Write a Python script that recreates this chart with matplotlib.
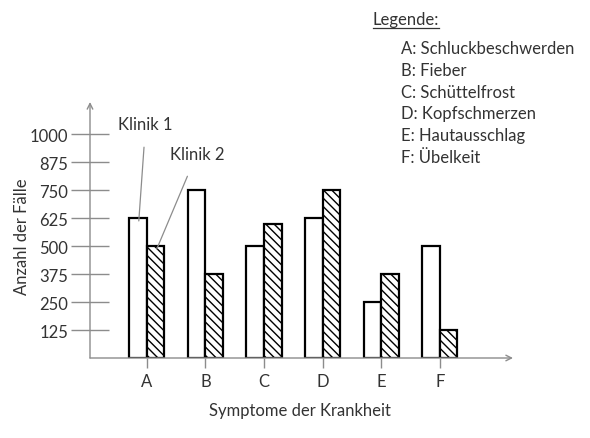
import matplotlib
matplotlib.use("Agg")
import matplotlib.pyplot as plt
import numpy as np

plt.rcParams["font.family"] = ["Lato", "DejaVu Sans"]
plt.rcParams["hatch.linewidth"] = 1.0

categories = ["A", "B", "C", "D", "E", "F"]
klinik1 = [625, 750, 500, 625, 250, 500]
klinik2 = [500, 375, 600, 750, 375, 125]
yticks = [125, 250, 375, 500, 625, 750, 875, 1000]
legend_items = ["A: Schluckbeschwerden", "B: Fieber", "C: Schüttelfrost",
                "D: Kopfschmerzen", "E: Hautausschlag", "F: Übelkeit"]

W, H = 590, 439
TXT = "#333333"
GREY = "#8c8c8c"

fig = plt.figure(figsize=(W / 100, H / 100), dpi=100)
ax = fig.add_axes([90 / W, (H - 359) / H, 423 / W, 256 / H])

x = np.arange(len(categories))
bw = 0.3
ax.bar(x, klinik1, width=-bw, align="edge", color="white", edgecolor="black", linewidth=1.6)
ax.bar(x, klinik2, width=bw, align="edge", color="white", edgecolor="black", linewidth=1.6,
       hatch="\\\\\\\\")

ax.set_xlim(-0.97, 6.25)
ax.set_ylim(0, 1143)
for s in ax.spines.values():
    s.set_visible(False)

# axes as arrows
ax.annotate("", xy=(0, 1), xytext=(0, 0), xycoords="axes fraction",
            arrowprops=dict(arrowstyle="->", color=GREY, lw=1, shrinkA=0, shrinkB=0))
ax.annotate("", xy=(1, 0), xytext=(0, 0), xycoords="axes fraction",
            arrowprops=dict(arrowstyle="->", color=GREY, lw=1, shrinkA=0, shrinkB=0))

ax.set_yticks(yticks)
ax.set_yticklabels([str(v) for v in yticks])
ax.tick_params(axis="y", direction="inout", length=27, width=1, color=GREY,
               labelsize=12, labelcolor=TXT, pad=2)
ax.set_xticks(x)
ax.set_xticklabels(categories)
ax.tick_params(axis="x", direction="out", length=7, width=1, color=GREY,
               labelsize=12, labelcolor=TXT, pad=4)

# series labels with leader lines
ax.annotate("Klinik 1", xy=(-0.137, 612), xytext=(-0.02, 1045), textcoords="data",
            ha="center", va="center", fontsize=12, color=TXT,
            arrowprops=dict(arrowstyle="-", color=GREY, lw=0.9, shrinkA=9, shrinkB=0))
ax.annotate("Klinik 2", xy=(0.17, 487), xytext=(0.853, 911), textcoords="data",
            ha="center", va="center", fontsize=12, color=TXT,
            arrowprops=dict(arrowstyle="-", color=GREY, lw=0.9, shrinkA=9, shrinkB=0))

fig.text(22 / W, 1 - 237 / H, "Anzahl der Fälle", rotation=90, ha="center", va="center",
         fontsize=12, color=TXT)
fig.text(300 / W, 1 - 411 / H, "Symptome der Krankheit", ha="center", va="center",
         fontsize=12, color=TXT)

# legend block
t = fig.text(373 / W, 1 - 20 / H, "Legende:", ha="left", va="center", fontsize=12, color=TXT)
fig.add_artist(plt.Line2D([373 / W, 439 / W], [1 - 29 / H, 1 - 29 / H], color=TXT, lw=0.9))
for i, item in enumerate(legend_items):
    fig.text(401 / W, 1 - (49 + 21.8 * i) / H, item, ha="left", va="center",
             fontsize=12, color=TXT)

fig.savefig("out.png", dpi=100)
